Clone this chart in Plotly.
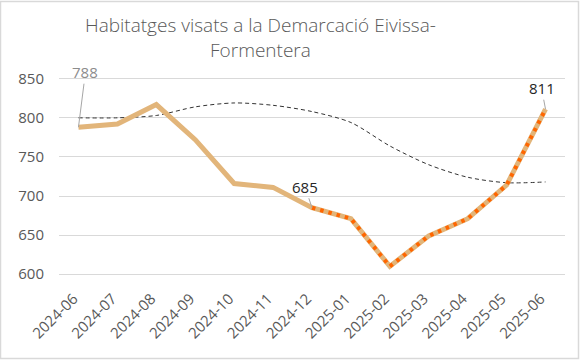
import plotly.graph_objects as go

months = ["2024-06", "2024-07", "2024-08", "2024-09", "2024-10", "2024-11", "2024-12",
          "2025-01", "2025-02", "2025-03", "2025-04", "2025-05", "2025-06"]
visats = [788, 792, 817, 772, 716, 711, 685, 671, 610, 649, 671, 714, 811]
tendencia = [800, 800, 803, 814, 819, 816, 808, 794, 764, 740, 724, 717, 718]
recent_start = 6  # dotted highlight from 2024-12
title_text = "Habitatges visats a la Demarcació Eivissa-<br>Formentera"

W, H = 580, 360
ml, mr, mt, mb = 59, 15, 67, 78
ymin, ymax = 590, 865
FONT = "Open Sans, sans-serif"
TICKFONT = "Open Sans, sans-serif"

fig = go.Figure()
fig.add_trace(go.Scatter(x=months, y=tendencia, mode="lines",
                         line=dict(color="#333333", width=1, dash="4px,3px", shape="spline",
                                   smoothing=0.8),
                         hoverinfo="skip", showlegend=False))
fig.add_trace(go.Scatter(x=months, y=visats, mode="lines",
                         line=dict(color="#E2B57A", width=5),
                         showlegend=False))
fig.add_trace(go.Scatter(x=months[recent_start:], y=visats[recent_start:], mode="lines",
                         line=dict(color="#FF6600", width=4, dash="3.5px,5px"),
                         showlegend=False))

ann_font = dict(family=TICKFONT, size=15)
fig.add_annotation(x=months[0], y=visats[0], text=str(visats[0]), showarrow=True,
                   arrowhead=0, arrowwidth=1, arrowcolor="#A6A6A6", ax=7, ay=-55,
                   font=dict(color="#8C8C8C", **ann_font))
fig.add_annotation(x=months[6], y=visats[6], text=str(visats[6]), showarrow=True,
                   arrowhead=0, arrowwidth=1, arrowcolor="#A6A6A6", ax=-7, ay=-21,
                   font=dict(color="#262626", **ann_font))
fig.add_annotation(x=months[-1], y=visats[-1], text=str(visats[-1]), showarrow=True,
                   arrowhead=0, arrowwidth=1, arrowcolor="#A6A6A6", ax=-4, ay=-21,
                   font=dict(color="#262626", **ann_font))

pw = W - ml - mr
ph = H - mt - mb
# title as annotation
fig.add_annotation(xref="paper", yref="paper",
                   x=(260 - ml) / pw, y=1 + (mt - 10) / ph,
                   xanchor="center", yanchor="top", showarrow=False,
                   text=title_text,
                   font=dict(family=FONT, size=19, color="#595959", weight=300))

fig.add_shape(type="rect", xref="paper", yref="paper",
              x0=(0.5 - ml) / pw, x1=(W - 1.5 - ml) / pw,
              y0=-(mb - 1.5) / ph, y1=1 + (mt - 1.5) / ph,
              line=dict(color="#D9D9D9", width=1.5), layer="below")

fig.update_layout(
    width=W, height=H,
    margin=dict(l=ml, r=mr, t=mt, b=mb),
    paper_bgcolor="white", plot_bgcolor="white",
    xaxis=dict(type="category", range=[-0.5, 12.5], tickangle=-45, showgrid=False,
               showline=False, ticks="", zeroline=False,
               ticklabelstandoff=4, ticklabelshift=-5,
               tickfont=dict(family=TICKFONT, size=15, color="#595959")),
    yaxis=dict(range=[ymin, ymax], tickvals=[600, 650, 700, 750, 800, 850],
               showgrid=True, gridcolor="#D9D9D9", gridwidth=1, zeroline=False,
               showline=False, ticks="", ticklabelstandoff=14,
               tickfont=dict(family=TICKFONT, size=15, color="#595959")),
)

fig.write_html("out.html", config={"displayModeBar": False},
               post_script="document.body.style.margin='0';")
